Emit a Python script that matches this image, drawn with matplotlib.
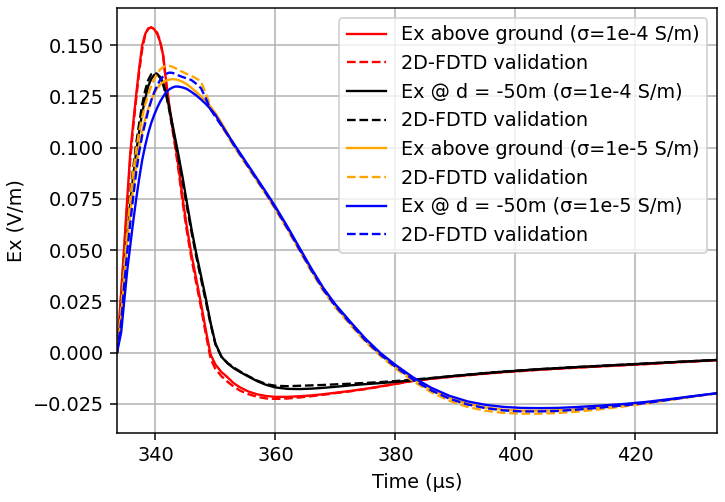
import matplotlib
matplotlib.use("Agg")
import matplotlib.pyplot as plt

# time axis (us)
t = [333.6, 334.3, 334.8, 335.3, 335.8, 336.3, 336.8, 337.3, 337.8, 338.3,
     338.8, 339.3, 339.8, 340.3, 340.8, 341.3, 341.8, 342.3, 342.8, 343.3,
     343.8, 344.5, 345.2, 346.0, 346.8, 347.6, 348.4, 349.2, 350.0, 351.0,
     352.0, 353.0, 354.0, 355.5, 357.0, 358.5, 360.0, 362.0, 364.0, 366.0,
     368.0, 370.0, 372.5, 375.0, 377.5, 380.0, 383.0, 386.0, 389.0, 392.0,
     395.0, 398.0, 401.0, 404.0, 407.0, 410.0, 414.0, 418.0, 422.0, 426.0,
     430.0, 433.6]

# sigma = 1e-4, above ground
ex_above_4 = [0.0, 0.030, 0.052, 0.075, 0.097, 0.112, 0.126, 0.139, 0.150, 0.1555,
              0.1582, 0.1587, 0.1578, 0.1555, 0.1515, 0.1450, 0.1320, 0.1210, 0.1110, 0.1020,
              0.0920, 0.0760, 0.0620, 0.0480, 0.0360, 0.0240, 0.0110, -0.0010, -0.0058, -0.0095,
              -0.0120, -0.0148, -0.0168, -0.0190, -0.0204, -0.0212, -0.0216, -0.0216, -0.0213, -0.0209,
              -0.0203, -0.0196, -0.0187, -0.0177, -0.0165, -0.0153, -0.0137, -0.0127, -0.0118, -0.0110,
              -0.0102, -0.0095, -0.0089, -0.0083, -0.0078, -0.0073, -0.0067, -0.0061, -0.0055, -0.0048,
              -0.0042, -0.0037]
fdtd_above_4 = [0.0, 0.028, 0.050, 0.072, 0.094, 0.110, 0.124, 0.137, 0.148, 0.155,
                0.158, 0.1586, 0.1580, 0.1560, 0.1520, 0.1445, 0.1310, 0.1195, 0.1095, 0.1000,
                0.0900, 0.0740, 0.0600, 0.0460, 0.0340, 0.0220, 0.0090, -0.0030, -0.0080, -0.0115,
                -0.0142, -0.0165, -0.0184, -0.0203, -0.0216, -0.0224, -0.0226, -0.0224, -0.0219, -0.0213,
                -0.0206, -0.0198, -0.0189, -0.0178, -0.0166, -0.0153, -0.0138, -0.0128, -0.0119, -0.0111,
                -0.0103, -0.0096, -0.0090, -0.0084, -0.0079, -0.0074, -0.0068, -0.0062, -0.0056, -0.0049,
                -0.0043, -0.0038]

# sigma = 1e-4, d = -50 m
ex_d50_4 = [0.0, 0.020, 0.040, 0.057, 0.073, 0.086, 0.098, 0.108, 0.117, 0.124,
            0.130, 0.1335, 0.1355, 0.1357, 0.1345, 0.1315, 0.1265, 0.1195, 0.1120, 0.1045,
            0.0970, 0.0860, 0.0740, 0.0605, 0.0485, 0.0375, 0.0265, 0.0145, 0.0045, -0.0020,
            -0.0052, -0.0075, -0.0093, -0.0117, -0.0140, -0.0158, -0.0170, -0.0177, -0.0178, -0.0176,
            -0.0172, -0.0167, -0.0160, -0.0154, -0.0149, -0.0143, -0.0135, -0.0125, -0.0116, -0.0108,
            -0.0100, -0.0093, -0.0087, -0.0081, -0.0076, -0.0071, -0.0065, -0.0059, -0.0053, -0.0047,
            -0.0041, -0.0036]
fdtd_d50_4 = [0.0, 0.022, 0.043, 0.061, 0.077, 0.090, 0.102, 0.112, 0.121, 0.128,
              0.1330, 0.1358, 0.1366, 0.1360, 0.1340, 0.1305, 0.1255, 0.1185, 0.1105, 0.1030,
              0.0955, 0.0840, 0.0720, 0.0590, 0.0470, 0.0360, 0.0250, 0.0138, 0.0040, -0.0020,
              -0.0050, -0.0072, -0.0090, -0.0115, -0.0137, -0.0154, -0.0162, -0.0164, -0.0162, -0.0160,
              -0.0158, -0.0155, -0.0152, -0.0148, -0.0144, -0.0139, -0.0132, -0.0124, -0.0116, -0.0108,
              -0.0100, -0.0093, -0.0087, -0.0081, -0.0076, -0.0071, -0.0065, -0.0059, -0.0053, -0.0047,
              -0.0041, -0.0036]

# sigma = 1e-5, above ground
ex_above_5 = [0.0, 0.018, 0.038, 0.054, 0.068, 0.080, 0.091, 0.100, 0.108, 0.114,
              0.119, 0.123, 0.1265, 0.1290, 0.1308, 0.1320, 0.1328, 0.1332, 0.1334, 0.1333,
              0.1330, 0.1322, 0.1310, 0.1292, 0.1272, 0.1250, 0.1226, 0.1200, 0.1168, 0.1122,
              0.1072, 0.1018, 0.0972, 0.0906, 0.0840, 0.0774, 0.0705, 0.0608, 0.0505, 0.0403,
              0.0308, 0.0228, 0.0143, 0.0061, -0.0009, -0.0068, -0.0131, -0.0182, -0.0222, -0.0250,
              -0.0268, -0.0279, -0.0284, -0.0284, -0.0282, -0.0277, -0.0268, -0.0257, -0.0244, -0.0228,
              -0.0212, -0.0199]
fdtd_above_5 = [0.0, 0.022, 0.042, 0.060, 0.075, 0.088, 0.099, 0.108, 0.115, 0.121,
                0.126, 0.130, 0.1335, 0.1362, 0.1382, 0.1393, 0.1398, 0.1399, 0.1395, 0.1388,
                0.1380, 0.1370, 0.1360, 0.1350, 0.1338, 0.1322, 0.1265, 0.1200, 0.1158, 0.1105,
                0.1058, 0.1010, 0.0966, 0.0900, 0.0834, 0.0768, 0.0698, 0.0600, 0.0497, 0.0395,
                0.0300, 0.0220, 0.0135, 0.0053, -0.0017, -0.0077, -0.0141, -0.0194, -0.0235, -0.0265,
                -0.0284, -0.0294, -0.0298, -0.0298, -0.0295, -0.0289, -0.0277, -0.0263, -0.0247, -0.0230,
                -0.0213, -0.0199]

# sigma = 1e-5, d = -50 m
ex_d50_5 = [0.0, 0.010, 0.025, 0.040, 0.052, 0.064, 0.075, 0.085, 0.094, 0.101,
            0.107, 0.112, 0.116, 0.1195, 0.1225, 0.1250, 0.1270, 0.1284, 0.1293, 0.1298,
            0.1298, 0.1294, 0.1287, 0.1272, 0.1255, 0.1235, 0.1213, 0.1188, 0.1160, 0.1113,
            0.1065, 0.1022, 0.0978, 0.0912, 0.0846, 0.0780, 0.0712, 0.0615, 0.0512, 0.0410,
            0.0315, 0.0235, 0.0150, 0.0068, -0.0002, -0.0060, -0.0122, -0.0172, -0.0211, -0.0238,
            -0.0255, -0.0265, -0.0270, -0.0271, -0.0270, -0.0266, -0.0259, -0.0251, -0.0240, -0.0226,
            -0.0211, -0.0198]
fdtd_d50_5 = [0.0, 0.015, 0.033, 0.049, 0.063, 0.076, 0.088, 0.098, 0.106, 0.112,
              0.118, 0.123, 0.127, 0.1305, 0.1330, 0.1348, 0.1360, 0.1366, 0.1365, 0.1360,
              0.1353, 0.1345, 0.1338, 0.1330, 0.1312, 0.1290, 0.1240, 0.1186, 0.1150, 0.1108,
              0.1066, 0.1016, 0.0972, 0.0906, 0.0840, 0.0774, 0.0705, 0.0607, 0.0504, 0.0402,
              0.0307, 0.0227, 0.0142, 0.0060, -0.0010, -0.0069, -0.0133, -0.0185, -0.0225, -0.0253,
              -0.0271, -0.0282, -0.0287, -0.0287, -0.0285, -0.0279, -0.0269, -0.0258, -0.0245, -0.0229,
              -0.0212, -0.0199]

DPI = 135
plt.rcParams['font.size'] = 10.3
fig = plt.figure(figsize=(725 / DPI, 502 / DPI), dpi=DPI)
plt.subplots_adjust(left=0.1614, right=0.989, bottom=0.1375, top=0.984)

lw = 1.25
plt.plot(t, ex_above_4, color='red', lw=lw, label='Ex above ground (σ=1e-4 S/m)')
plt.plot(t, fdtd_above_4, 'r--', lw=lw, label='2D-FDTD validation')
plt.plot(t, ex_d50_4, color='black', lw=lw, label='Ex @ d = -50m (σ=1e-4 S/m)')
plt.plot(t, fdtd_d50_4, 'k--', lw=lw, label='2D-FDTD validation')
plt.plot(t, ex_above_5, color='orange', lw=lw, label='Ex above ground (σ=1e-5 S/m)')
plt.plot(t, fdtd_above_5, '--', color='orange', lw=lw, label='2D-FDTD validation')
plt.plot(t, ex_d50_5, color='blue', lw=lw, label='Ex @ d = -50m (σ=1e-5 S/m)')
plt.plot(t, fdtd_d50_5, 'b--', lw=lw, label='2D-FDTD validation')

plt.xlim(t[0], t[-1])
plt.xlabel('Time (µs)')
plt.ylabel('Ex (V/m)')
plt.grid(True)
plt.legend(loc='upper right')

plt.savefig('out.png', dpi=DPI)
